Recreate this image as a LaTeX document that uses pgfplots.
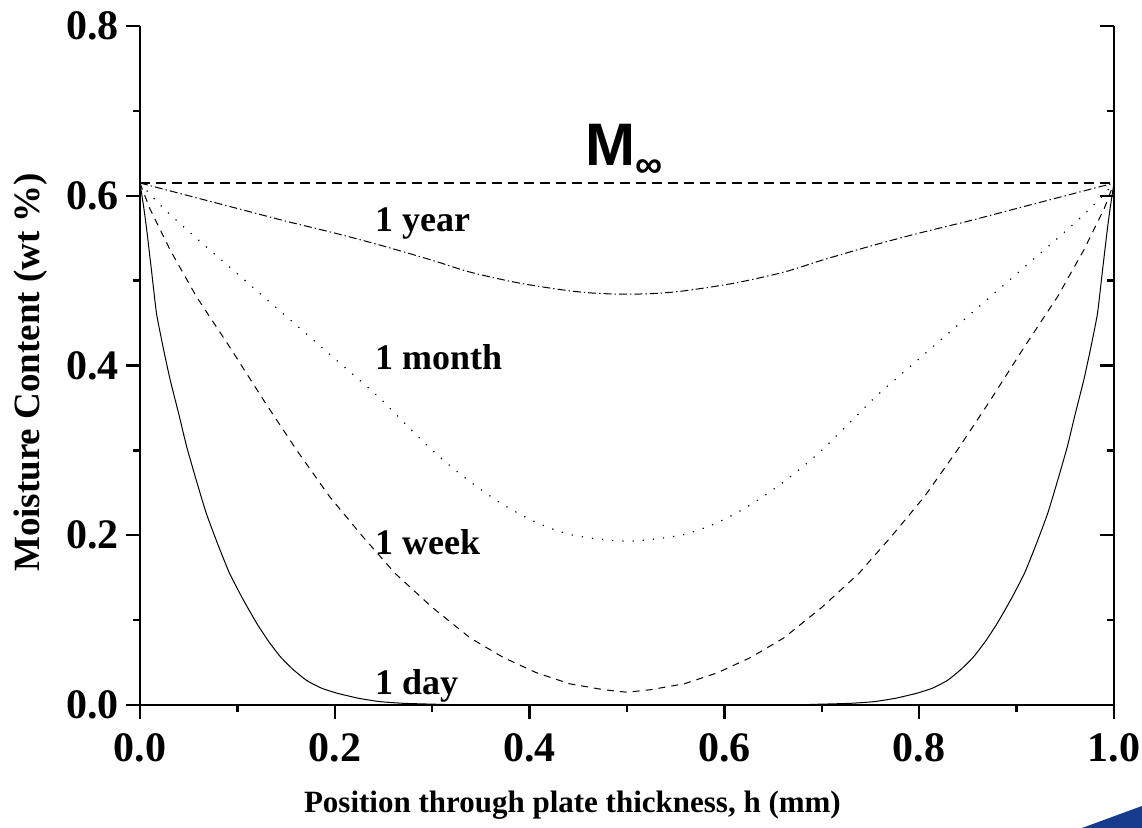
\documentclass[border=0pt]{standalone}
\usepackage{fontspec}
\setmainfont{Liberation Serif}
\newfontfamily\sansfont{Liberation Sans}
\usepackage{pgfplots}
\pgfplotsset{compat=1.18}
\definecolor{logoblue}{RGB}{22,58,140}

\begin{document}
\begin{tikzpicture}
\pgfplotsset{
  plate/.style={
    scale only axis, width=487pt, height=339.5pt,
    xmin=0, xmax=1, ymin=0, ymax=0.8,
    major tick length=7pt, minor tick length=3.5pt,
    every tick/.style={black, line width=1.2pt},
    axis line style={line width=1.3pt, -},
  },
}
\begin{axis}[
    plate,
    axis x line*=bottom, axis y line*=left,
    tick align=outside,
    xtick={0,0.2,0.4,0.6,0.8,1.0}, ytick={0,0.2,0.4,0.6,0.8},
    minor x tick num=1, minor y tick num=1,
    /pgf/number format/.cd, fixed, fixed zerofill, precision=1, assume math mode=true,
    /pgfplots/.cd,
    tick label style={font=\fontsize{21}{24}\selectfont\bfseries},
    xticklabel style={yshift=-4pt},
    xlabel={Position through plate thickness, h (mm)},
    ylabel={Moisture Content (wt \%)},
    xlabel style={font=\fontsize{15.5}{19}\selectfont\bfseries,
      at={(axis description cs:0.444,0)}, anchor=center, yshift=-50pt},
    ylabel style={font=\fontsize{18.5}{22}\selectfont\bfseries,
      at={(axis description cs:-0.112,0.49)}, anchor=center},
]
\coordinate (O) at (axis cs:0,0);

% M infinity level
\addplot[black, line width=0.7pt, dash pattern=on 5pt off 3pt] coordinates {(0,0.615) (1,0.615)};

% 1 year
\addplot[black, line width=0.5pt, smooth, tension=0.5, dash pattern=on 4pt off 1.5pt on 0.7pt off 1.5pt] coordinates {
  (0,0.615) (0.05,0.600) (0.10,0.585) (0.15,0.570) (0.20,0.556) (0.246,0.542)
  (0.30,0.524) (0.339,0.510) (0.39,0.497) (0.441,0.488) (0.47,0.485) (0.50,0.484)
  (0.53,0.485) (0.559,0.488) (0.61,0.497) (0.661,0.510) (0.70,0.524) (0.754,0.542)
  (0.80,0.556) (0.85,0.570) (0.90,0.585) (0.95,0.600) (1,0.615)
};

% 1 month
\addplot[black, line width=0.6pt, smooth, tension=0.5, dash pattern=on 0.6pt off 4.5pt] coordinates {
  (0,0.615) (0.02,0.590) (0.05,0.558) (0.10,0.508) (0.15,0.458) (0.20,0.408)
  (0.243,0.365) (0.270,0.334) (0.305,0.295) (0.339,0.263) (0.373,0.236)
  (0.407,0.215) (0.441,0.201) (0.476,0.195) (0.50,0.193)
  (0.524,0.195) (0.559,0.201) (0.593,0.215) (0.627,0.236) (0.661,0.263)
  (0.695,0.295) (0.730,0.334) (0.757,0.365) (0.80,0.408) (0.85,0.458)
  (0.90,0.508) (0.95,0.558) (0.98,0.590) (1,0.615)
};

% 1 week
\addplot[black, line width=0.5pt, dash pattern=on 3.5pt off 3pt] coordinates {
  (0,0.615) (0.01,0.585) (0.031,0.536) (0.058,0.481) (0.092,0.422) (0.127,0.359)
  (0.161,0.300) (0.195,0.245) (0.229,0.198) (0.262,0.155) (0.30,0.115)
  (0.339,0.079) (0.373,0.056) (0.407,0.038) (0.441,0.025) (0.476,0.018) (0.50,0.015)
  (0.524,0.018) (0.559,0.025) (0.593,0.038) (0.627,0.056) (0.661,0.079)
  (0.70,0.115) (0.738,0.155) (0.771,0.198) (0.805,0.245) (0.839,0.300)
  (0.873,0.359) (0.908,0.422) (0.942,0.481) (0.969,0.536) (0.99,0.585) (1,0.615)
};

% 1 day
\addplot[black, line width=0.5pt, smooth, tension=0.3] coordinates {
  (0,0.615) (0.004,0.585) (0.007,0.559) (0.012,0.510) (0.017,0.461) (0.024,0.420)
  (0.031,0.383) (0.040,0.342) (0.048,0.304) (0.058,0.264) (0.068,0.226)
  (0.080,0.189) (0.092,0.155) (0.106,0.124) (0.120,0.096) (0.132,0.075)
  (0.144,0.057) (0.157,0.042) (0.171,0.029) (0.186,0.020) (0.202,0.014)
  (0.224,0.008) (0.246,0.004) (0.27,0.002) (0.30,0.001) (0.35,0.0)
  (0.65,0.0) (0.70,0.001) (0.73,0.002) (0.754,0.004) (0.776,0.008)
  (0.798,0.014) (0.814,0.020) (0.829,0.029) (0.843,0.042) (0.856,0.057)
  (0.868,0.075) (0.880,0.096) (0.894,0.124) (0.908,0.155) (0.920,0.189)
  (0.932,0.226) (0.942,0.264) (0.952,0.304) (0.960,0.342) (0.969,0.383)
  (0.976,0.420) (0.983,0.461) (0.988,0.510) (0.993,0.559) (0.996,0.585) (1,0.615)
};

\begin{scope}[every node/.style={anchor=base west, inner sep=0pt, font=\fontsize{18}{20}\selectfont\bfseries}]
\node at (axis cs:0.241,0.558) {1 year};
\node at (axis cs:0.241,0.395) {1 month};
\node at (axis cs:0.241,0.177) {1 week};
\node at (axis cs:0.241,0.012) {1 day};
\end{scope}
\node[anchor=base west, inner sep=0pt] at (axis cs:0.457,0.636)
  {\sansfont\bfseries\fontsize{30}{30}\selectfont M\raisebox{-6pt}{\fontsize{19}{19}\selectfont ∞}};
\end{axis}

\begin{axis}[
    plate,
    axis x line=none, axis y line*=right,
    tick align=inside,
    ytick={0,0.2,0.4,0.6,0.8}, minor y tick num=1,
    yticklabels={},
]
\end{axis}

\fill[logoblue] ([shift={(471pt,-61.5pt)}]O) .. controls ([shift={(486pt,-56pt)}]O) .. ([shift={(501pt,-50.5pt)}]O)
  -- ([shift={(501pt,-61.5pt)}]O) -- cycle;
\pgfresetboundingbox
\path[use as bounding box] ([shift={(-70pt,-61.5pt)}]O) rectangle ([shift={(501pt,352.5pt)}]O);
\end{tikzpicture}
\end{document}
